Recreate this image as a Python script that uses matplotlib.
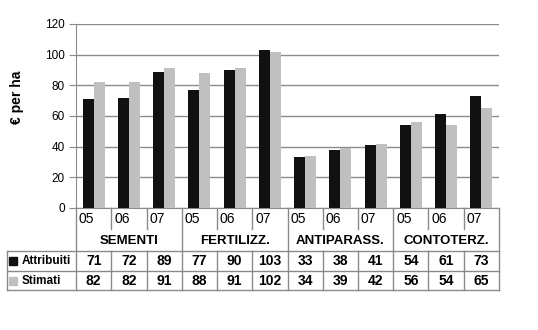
import numpy as np
import matplotlib.pyplot as plt

plt.rcParams['font.family'] = ['Liberation Sans', 'DejaVu Sans']

# Data
groups = ['SEMENTI', 'FERTILIZZ.', 'ANTIPARASS.', 'CONTOTERZ.']
years = ['05', '06', '07']
attribuiti = [71, 72, 89, 77, 90, 103, 33, 38, 41, 54, 61, 73]
stimati = [82, 82, 91, 88, 91, 102, 34, 39, 42, 56, 54, 65]
series_names = ['Attribuiti', 'Stimati']
series_colors = ['#111111', '#c0c0c0']
yticks = [0, 20, 40, 60, 80, 100, 120]

line_col = '#8a8a8a'
n = len(attribuiti)
x = np.arange(n)
w = 0.31

fig = plt.figure(figsize=(5.38, 3.30), dpi=100)
ax = fig.add_axes([0.1413, 0.3697, 0.7862, 0.5576])

ax.bar(x - w / 2, attribuiti, w, color=series_colors[0], zorder=3)
ax.bar(x + w / 2, stimati, w, color=series_colors[1], zorder=3)

ax.set_xlim(-0.5, n - 0.5)
ax.set_ylim(0, 120)
ax.set_yticks(yticks)
ax.set_yticklabels([str(t) for t in yticks], fontsize=8.5)
ax.set_xticks([])
ax.tick_params(axis='y', length=5, color=line_col, pad=3)
ax.yaxis.grid(True, color='#8c8c8c', linewidth=1)
ax.set_axisbelow(True)
for s in ['top', 'right']:
    ax.spines[s].set_visible(False)
ax.spines['left'].set_color(line_col)
ax.spines['bottom'].set_color(line_col)

ax.set_ylabel('€ per ha', fontsize=10, fontweight='bold')
ax.yaxis.set_label_coords(-0.124, 0.6)

# Data table under the chart (x in data units, y in axes fraction)
tr = ax.get_xaxis_transform()
r_year = -0.114
r_top = -0.2337
r_mid = -0.3424
r_bot = -0.4457
tbl_left = -0.163

def vline(xv, y0, y1):
    ax.plot([xv, xv], [y0, y1], transform=tr, color=line_col, lw=1, clip_on=False)

def hline(y, x0=tbl_left):
    ax.plot([x0, 1], [y, y], transform=ax.transAxes, color=line_col, lw=1, clip_on=False)

# year labels and separators
for i in range(n):
    ax.text(i - 0.42, -0.062, years[i % 3], transform=tr, fontsize=10,
            ha='left', va='center')
    if i % 3 != 0:
        vline(i - 0.5, 0, r_year)
        vline(i - 0.5, r_top, r_bot)
    else:
        vline(i - 0.5, 0, r_bot)
vline(n - 0.5, 0, r_bot)

# group labels
for g, name in enumerate(groups):
    ax.text(g * 3 + 1, -0.18, name, transform=tr, fontsize=9.5,
            fontweight='bold', ha='center', va='center')

hline(r_top)
hline(r_mid)
hline(r_bot)
ax.plot([tbl_left, tbl_left], [r_top, r_bot], transform=ax.transAxes,
        color=line_col, lw=1, clip_on=False)

# series rows
rows = [attribuiti, stimati]
for r, (vals, name, col) in enumerate(zip(rows, series_names, series_colors)):
    yc = (r_top + r_mid) / 2 if r == 0 else (r_mid + r_bot) / 2
    ax.plot([-0.148], [yc], transform=ax.transAxes, marker='s', ms=5.5,
            color=col, clip_on=False)
    ax.text(-0.128, yc, name, transform=ax.transAxes, fontsize=8.5,
            fontweight='bold', ha='left', va='center')
    for i, v in enumerate(vals):
        ax.text(i, yc, str(v), transform=tr, fontsize=10, fontweight='bold',
                ha='center', va='center')

fig.savefig('out.png', dpi=100)
